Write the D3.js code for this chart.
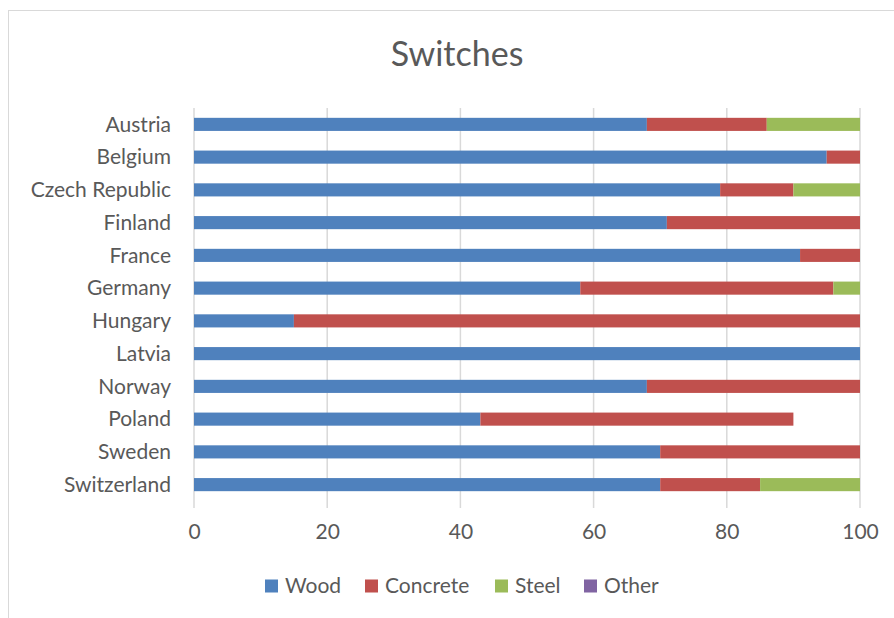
<!DOCTYPE html>
<html><head><meta charset="utf-8">
<script src="https://cdn.jsdelivr.net/npm/d3@7"></script>
<style>body{margin:0;background:#fff}svg{display:block}</style>
</head><body>
<svg id="c" width="894" height="618"></svg>
<script>
const categories = ["Austria","Belgium","Czech Republic","Finland","France","Germany","Hungary","Latvia","Norway","Poland","Sweden","Switzerland"];
const wood     = [68, 95, 79, 71, 91, 58, 15, 100, 68, 43, 70, 70];
const concrete = [18,  5, 11, 29,  9, 38, 85,   0, 32, 47, 30, 15];
const steel    = [14,  0, 10,  0,  0,  4,  0,   0,  0,  0,  0, 15];
const other    = [ 0,  0,  0,  0,  0,  0,  0,   0,  0,  0,  0,  0];
const seriesNames = ["Wood","Concrete","Steel","Other"];
const colors = ["#4f81bd","#c0504d","#9bbb59","#8064a2"];
const xTicks = [0,20,40,60,80,100];

const svg = d3.select("#c");
const font = "Lato, 'Open Sans', sans-serif";
const txt = "#595959";
const fs = 21;

svg.append("rect").attr("x",8.5).attr("y",10.5).attr("width",900).attr("height",620)
  .attr("fill","#fff").attr("stroke","#d9d9d9").attr("stroke-width",1);

const x = d3.scaleLinear().domain([0,100]).range([194,860]);
const y = d3.scaleBand().domain(categories).range([108,501]).paddingInner(0.6).paddingOuter(0.3);

svg.append("g").selectAll("line").data(xTicks).join("line")
  .attr("x1",d=>x(d)).attr("x2",d=>x(d)).attr("y1",108).attr("y2",508)
  .attr("stroke","#d9d9d9").attr("stroke-width",1.5);

const rows = categories.map((c,i)=>({cat:c, Wood:wood[i], Concrete:concrete[i], Steel:steel[i], Other:other[i]}));
const stack = d3.stack().keys(seriesNames)(rows);

svg.append("g").selectAll("g").data(stack).join("g")
  .attr("fill",(d,i)=>colors[i])
  .selectAll("rect").data(d=>d).join("rect")
  .attr("x",d=>x(d[0])).attr("width",d=>x(d[1])-x(d[0]))
  .attr("y",d=>y(d.data.cat)).attr("height",y.bandwidth());

svg.append("g").selectAll("text").data(categories).join("text")
  .attr("x",171).attr("y",d=>y(d)+y.bandwidth()/2).attr("dy","0.35em")
  .attr("text-anchor","end").attr("font-family",font).attr("font-size",fs).attr("fill",txt)
  .text(d=>d);

const xa = svg.append("g").attr("transform","translate(0,532)")
  .call(d3.axisBottom(x).tickValues(xTicks).tickSize(0).tickPadding(0));
xa.select(".domain").remove();
xa.selectAll("text").attr("font-family",font).attr("font-size",fs).attr("fill",txt).attr("dy","0.35em");

svg.append("text").attr("x",457).attr("y",54).attr("dy","0.35em").attr("text-anchor","middle")
  .attr("font-family",font).attr("font-size",34).attr("fill",txt).text("Switches");

const legX = [265,365,495,584];
const lg = svg.append("g").selectAll("g").data(seriesNames).join("g")
  .attr("transform",(d,i)=>`translate(${legX[i]},586)`);
lg.append("rect").attr("x",0).attr("y",-6.5).attr("width",13).attr("height",13).attr("fill",(d,i)=>colors[i]);
lg.append("text").attr("x",20).attr("y",0).attr("dy","0.35em").attr("font-family",font)
  .attr("font-size",fs).attr("fill",txt).text(d=>d);
</script>
</body></html>
